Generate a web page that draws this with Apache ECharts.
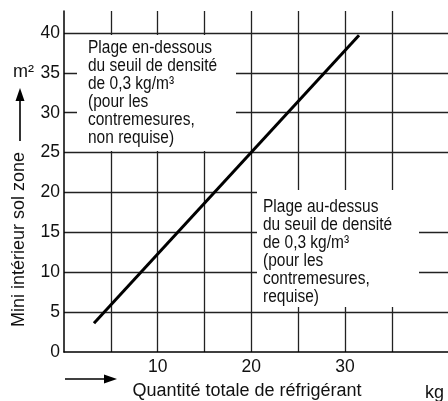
<!DOCTYPE html>
<html>
<head>
<meta charset="utf-8">
<script src="https://cdn.jsdelivr.net/npm/echarts@6/dist/echarts.min.js"></script>
<style>
  html, body { margin: 0; padding: 0; background: #fff; }
  #chart { width: 448px; height: 401px; }
</style>
</head>
<body>
<div id="chart"></div>
<script>
// Refrigerant charge (kg) against minimum indoor floor area (m²)
const chargeKg = [3.2, 31.5];
const minAreaM2 = [3.6, 39.7];

const yTickValues = [0, 5, 10, 15, 20, 25, 30, 35, 40];
const xTickLabels = ['10', '20', '30'];

const xAxisTitle = 'Quantité totale de réfrigérant';
const yAxisTitle = 'Mini intérieur sol zone';
const yUnit = 'm²';
const xUnit = 'kg';

const belowText = [
  'Plage en-dessous',
  'du seuil de densité',
  'de 0,3 kg/m³',
  '(pour les',
  'contremesures,',
  'non requise)'
];
const aboveText = [
  'Plage au-dessus',
  'du seuil de densité',
  'de 0,3 kg/m³',
  '(pour les',
  'contremesures,',
  'requise)'
];

const FONT = '"Liberation Sans", Arial, Helvetica, sans-serif';
const INK = '#111';
const GRID = '#222';

const points = chargeKg.map((x, i) => [x, minAreaM2[i]]);

const chart = echarts.init(document.getElementById('chart'), null, { renderer: 'canvas' });

// vertical grid lines at 5..40; the line at 40 is left out
const xLineColors = [GRID, GRID, GRID, GRID, GRID, GRID, GRID, 'rgba(0,0,0,0)'];

function arrowHead(tip, dir, len, half) {
  // dir: unit vector of arrow direction
  const bx = tip[0] - dir[0] * len, by = tip[1] - dir[1] * len;
  const px = -dir[1] * half, py = dir[0] * half;
  return [tip, [bx + px, by + py], [bx - px, by - py]];
}

chart.setOption({
  animation: false,
  backgroundColor: '#fff',
  grid: { left: 64, top: 11, right: 0, bottom: 49, containLabel: false, outerBoundsMode: 'none' },
  xAxis: {
    type: 'value',
    min: 0,
    max: 41,
    interval: 5,
    name: xAxisTitle,
    nameLocation: 'middle',
    nameGap: 30,
    nameTextStyle: { fontFamily: FONT, fontSize: 18, color: INK, padding: [0, 18, 0, 0] },
    axisLine: { show: true, lineStyle: { color: '#000', width: 1.5 } },
    axisTick: { show: false },
    axisLabel: {
      fontFamily: FONT, fontSize: 17.5, color: INK, margin: 6,
      showMaxLabel: false,
      formatter: v => (xTickLabels.indexOf(String(v)) >= 0 ? String(v) : '')
    },
    splitLine: {
      show: true, showMinLine: false, showMaxLine: false,
      lineStyle: { color: xLineColors, width: 1.3 }
    }
  },
  yAxis: {
    type: 'value',
    min: 0,
    max: 42.75,
    interval: 5,
    name: yAxisTitle,
    nameLocation: 'middle',
    nameRotate: 90,
    nameGap: 36,
    nameTextStyle: { fontFamily: FONT, fontSize: 18, color: INK, padding: [0, 116, 0, 0] },
    axisLine: { show: true, lineStyle: { color: '#000', width: 1.5 } },
    axisTick: { show: false },
    axisLabel: {
      fontFamily: FONT, fontSize: 17.5, color: INK, margin: 4,
      showMaxLabel: false,
      formatter: v => (yTickValues.indexOf(v) >= 0 ? String(v) : '')
    },
    splitLine: {
      show: true, showMinLine: false, showMaxLine: false,
      lineStyle: { color: GRID, width: 1.3 }
    }
  },
  series: [{
    type: 'line',
    data: points,
    symbol: 'none',
    z: 5,
    lineStyle: { color: '#000', width: 3 }
  }],
  graphic: [
    // white panels behind the two region notes
    { type: 'rect', z: 20, shape: { x: 77, y: 35, width: 159, height: 116 }, style: { fill: '#fff' } },
    { type: 'rect', z: 20, shape: { x: 257, y: 190, width: 162, height: 117 }, style: { fill: '#fff' } },
    { type: 'rect', z: 20, shape: { x: 419, y: 190, width: 29, height: 6 }, style: { fill: '#fff' } },
    {
      type: 'text', z: 21, x: 88, y: 39, scaleX: 0.885,
      style: { text: belowText.join('\n'), font: '17.5px ' + FONT, fill: INK, lineHeight: 18, textVerticalAlign: 'top' }
    },
    {
      type: 'text', z: 21, x: 263, y: 198, scaleX: 0.885,
      style: { text: aboveText.join('\n'), font: '17.5px ' + FONT, fill: INK, lineHeight: 18, textVerticalAlign: 'top' }
    },
    // unit labels
    { type: 'text', z: 21, x: 13, y: 63, style: { text: yUnit, font: '18px ' + FONT, fill: INK } },
    { type: 'text', z: 21, x: 425, y: 384, style: { text: xUnit, font: '18px ' + FONT, fill: INK } },
    // direction arrows
    { type: 'line', z: 21, shape: { x1: 20, y1: 141, x2: 20, y2: 98 }, style: { stroke: '#000', lineWidth: 1.6 } },
    { type: 'polygon', z: 21, shape: { points: arrowHead([20, 88], [0, -1], 13, 4.5) }, style: { fill: '#000' } },
    { type: 'line', z: 21, shape: { x1: 65, y1: 379, x2: 106, y2: 379 }, style: { stroke: '#000', lineWidth: 1.6 } },
    { type: 'polygon', z: 21, shape: { points: arrowHead([117, 379], [1, 0], 13, 4.5) }, style: { fill: '#000' } }
  ]
});
</script>
</body>
</html>
